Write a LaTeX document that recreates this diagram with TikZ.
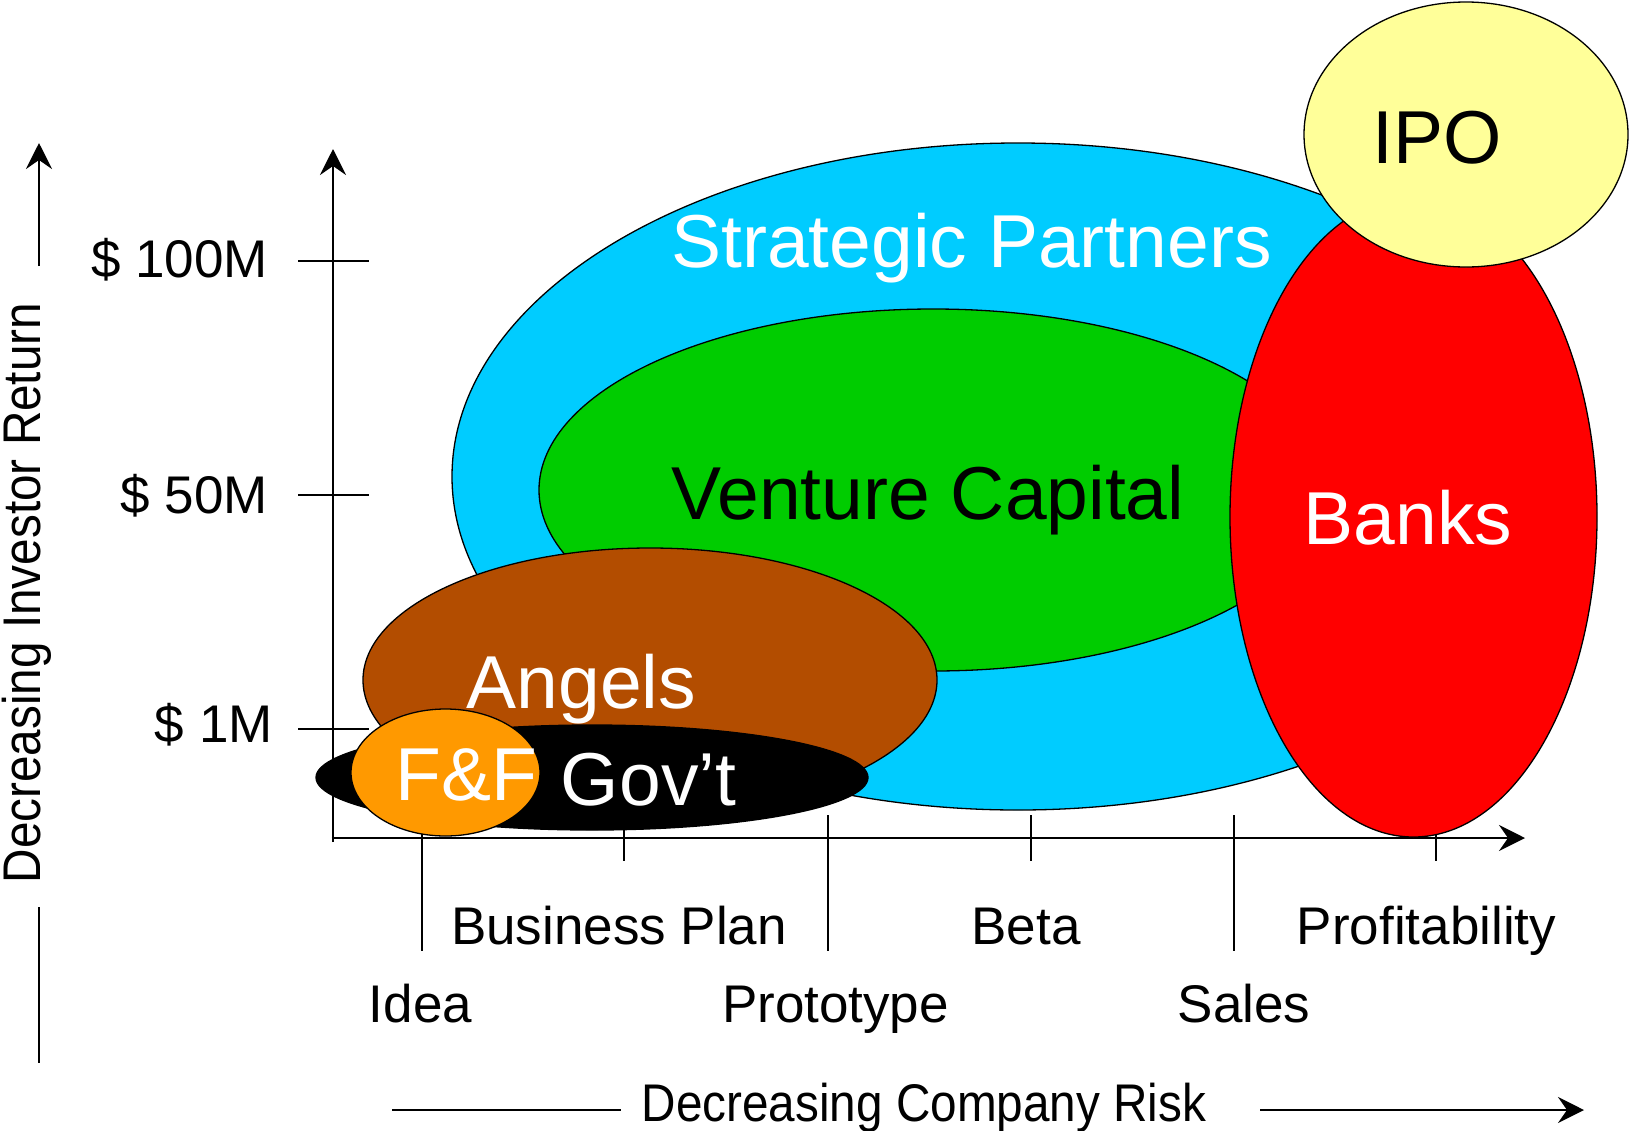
\documentclass[tikz,border=0pt]{standalone}
\usepackage{fontspec}
\setmainfont{Liberation Sans}
\usetikzlibrary{arrows.meta}

\definecolor{partnerblue}{HTML}{00CCFF}
\definecolor{vcgreen}{HTML}{00CC00}
\definecolor{bankred}{HTML}{FF0000}
\definecolor{ipoyellow}{HTML}{FFFF99}
\definecolor{angelbrown}{HTML}{B34D00}
\definecolor{ffarange}{HTML}{FF9900}

\begin{document}
\begin{tikzpicture}[
    x=1pt, y=-1pt,
    blob/.style={draw=black, line width=1.3pt},
    rule/.style={line width=2.7pt},
    arrowed/.style={rule, -{Stealth[length=26pt, width=26pt, inset=9pt]}},
    big/.style={inner sep=0pt, anchor=base, font=\fontsize{75}{90}\selectfont},
    small/.style={inner sep=0pt, anchor=base, font=\fontsize{53}{64}\selectfont}
  ]
  \useasboundingbox (0,0) rectangle (1629,1130);
  \fill[white] (0,0) rectangle (1629,1130);

  % axes and ticks
  \coordinate (origin) at (333,838);
  \coordinate (ytop) at (333,149);
  \coordinate (xend) at (1525,838);
  \foreach \ty in {261,495,729}
    \draw[rule] (298,\ty) -- (369,\ty);
  \foreach \tx/\tlen in {422/951,624/861,828/951,1031/861,1234/951,1436/861}
    \draw[rule] (\tx,815) -- (\tx,\tlen);
  \draw[arrowed] ([yshift=-4pt]origin) -- (ytop);
  \draw[arrowed] ([xshift=-1.3pt]origin) -- (xend);

  % funding sources
  \filldraw[blob, fill=partnerblue] (1018,476.5) ellipse [x radius=566pt, y radius=333.5pt];
  \filldraw[blob, fill=vcgreen] (933,490) ellipse [x radius=394pt, y radius=181pt];
  \filldraw[blob, fill=bankred] (1413.5,517) ellipse [x radius=183.5pt, y radius=320pt];
  \filldraw[blob, fill=ipoyellow] (1466,134.5) ellipse [x radius=162pt, y radius=132.5pt];
  \filldraw[blob, fill=angelbrown] (650,680) ellipse [x radius=287pt, y radius=132pt];
  \filldraw[blob, fill=black] (592,777.5) ellipse [x radius=276pt, y radius=52.5pt];
  \filldraw[blob, fill=ffarange] (445.5,772.5) ellipse [x radius=94.5pt, y radius=63.5pt];

  \node[big, text=white] (partners) at (971.5,267) {Strategic Partners};
  \node[big] (vc) at (928,519) {Venture Capital};
  \node[big, text=white] (banks) at (1408,544) {Banks};
  \node[big] (ipo) at (1437.5,163) {IPO};
  \node[big, text=white] (angels) at (581.5,708) {Angels};
  \node[big, text=white] (ff) at (466,800) {F\&F};
  \node[big, text=white] (govt) at (648.5,805) {Gov’t};

  % value scale
  \node[small, anchor=base east] (m100) at (268,277) {\$ 100M};
  \node[small, anchor=base east] (m50) at (268,513) {\$ 50M};
  \node[small, anchor=base east] (m1) at (273,742) {\$ 1M};

  % stages
  \node[small] (idea) at (420.5,1022) {Idea};
  \node[small] (plan) at (619,944) {Business Plan};
  \node[small] (proto) at (835.5,1022) {Prototype};
  \node[small] (beta) at (1026,944) {Beta};
  \node[small] (sales) at (1244,1022) {Sales};
  \node[small] (profit) at (1426.5,944) {Profitability};

  % axis captions
  \node[small, rotate=90] (retlbl) at (40,593) {\scalebox{0.9}[1]{Decreasing Investor Return}};
  \node[small] (risklbl) at (924,1121) {\scalebox{0.9}[1]{Decreasing Company Risk}};
  \coordinate (ret a) at (39,266);
  \coordinate (ret b) at (39,143);
  \coordinate (ret c) at (39,907);
  \coordinate (ret d) at (39,1063);
  \coordinate (risk a) at (392,1110);
  \coordinate (risk b) at (621,1110);
  \coordinate (risk c) at (1260,1110);
  \coordinate (risk d) at (1584,1110);
  \draw[arrowed] (ret a) -- (ret b);
  \draw[rule] (ret c) -- (ret d);
  \draw[rule] (risk a) -- (risk b);
  \draw[arrowed] (risk c) -- (risk d);
\end{tikzpicture}
\end{document}
